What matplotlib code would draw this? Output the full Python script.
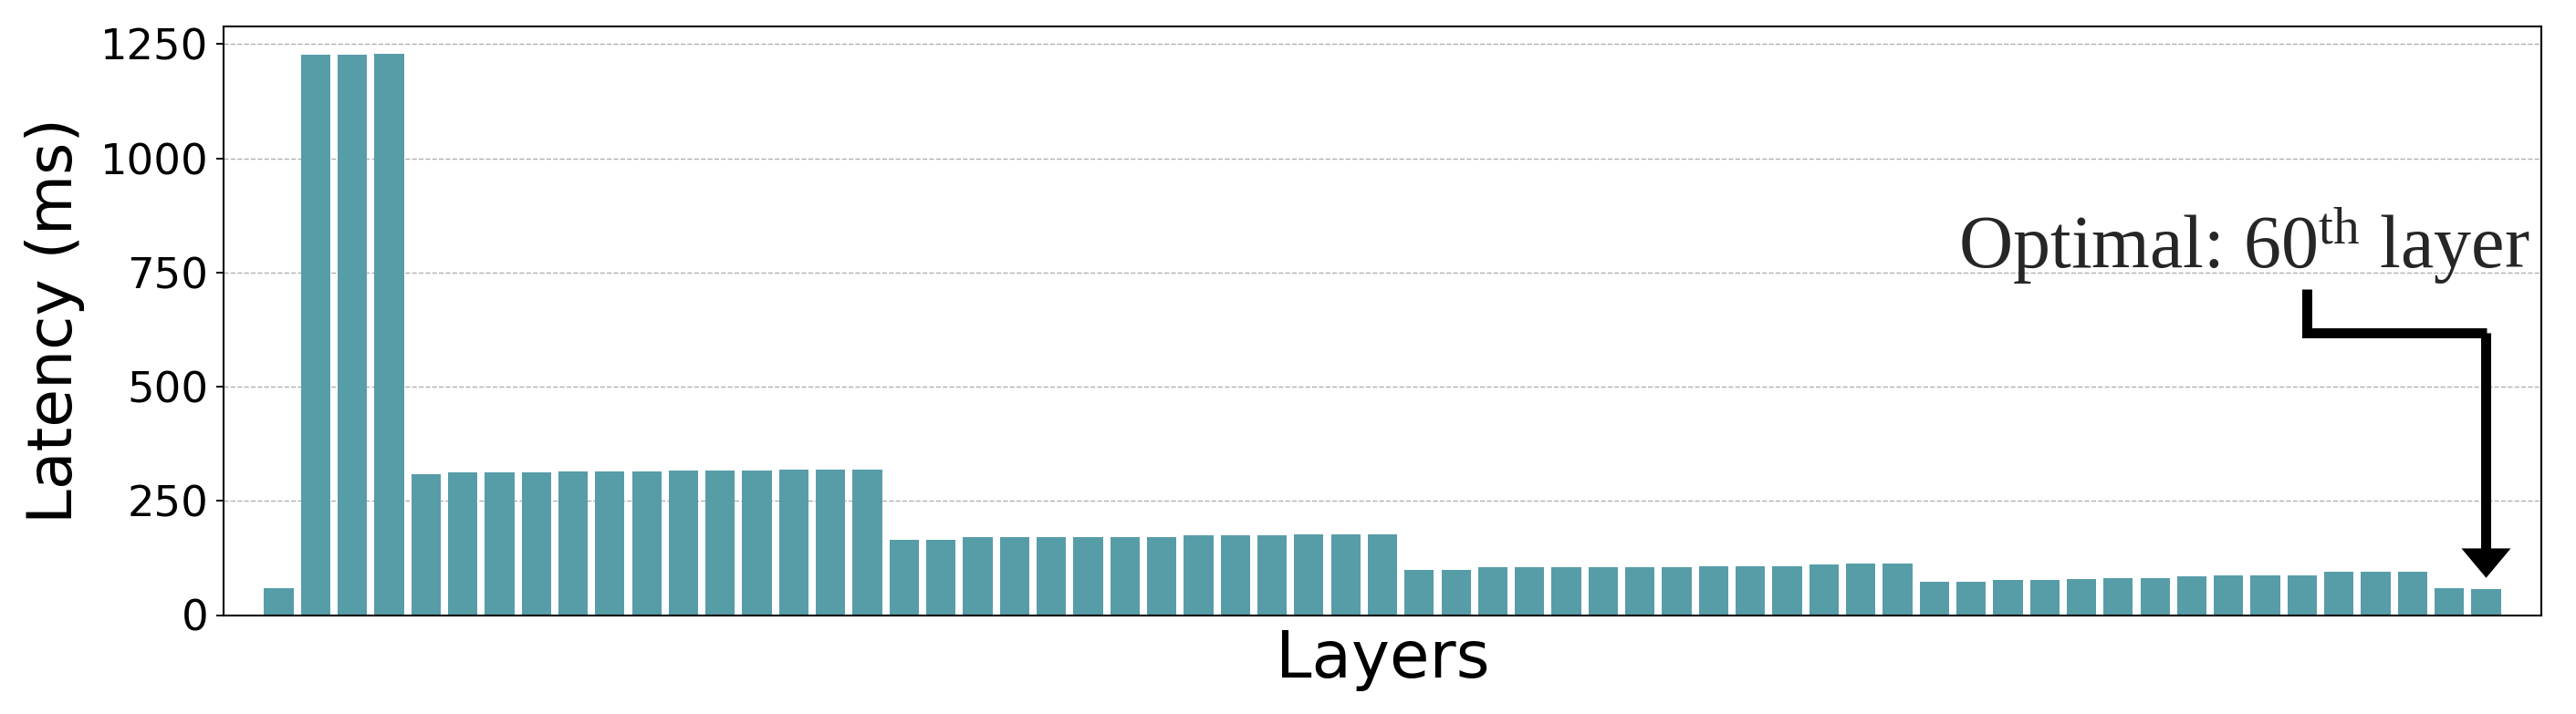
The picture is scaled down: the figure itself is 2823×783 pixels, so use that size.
import matplotlib
matplotlib.use("Agg")
import matplotlib.pyplot as plt
import numpy as np

# ---- data ----
latency_ms = [
    58,
    1227, 1227, 1228,
    309, 312, 312, 312, 314, 314, 314, 317, 317, 317, 319, 319, 319,
    165.5, 165.5, 170, 170, 170, 171.5, 171.5, 171.5, 174, 174, 174, 176, 176, 176,
    99.6, 99.6, 104, 104, 104, 105.7, 105.7, 105.7, 107.4, 107.4, 107.4, 110, 111.8, 111.8,
    72.8, 72.8, 76.3, 76.3, 78, 81.5, 81.5, 84.1, 87.6, 87.6, 87.6, 94.5, 94.5, 94.5,
    58.1, 56.4,
]
layers = list(range(len(latency_ms)))
optimal_layer = layers[-1]
annotation_text = r"Optimal: 60$^{\mathrm{th}}$ layer"

# ---- figure ----
plt.rcParams["mathtext.fontset"] = "custom"
plt.rcParams["mathtext.rm"] = "Liberation Serif"
plt.rcParams["mathtext.it"] = "Liberation Serif:italic"

fig = plt.figure(figsize=(28.23, 7.83), dpi=100)
ax = fig.add_axes([245 / 2823, 1 - 674.5 / 783, 2540 / 2823, 646 / 783])

ax.bar(layers, latency_ms, width=0.8, color="#579DA8", zorder=2)

ax.set_xlim(-1.5, 61.5)
ax.set_ylim(0, 1289.5)
ax.set_yticks([0, 250, 500, 750, 1000, 1250])
ax.set_xticks([])
ax.tick_params(axis="y", labelsize=33.5, length=6, width=1.4, pad=6, colors="black")
ax.grid(axis="y", linestyle="--", color="#b0b0b0", linewidth=1.0, zorder=0)
ax.set_axisbelow(True)
for s in ax.spines.values():
    s.set_linewidth(1.5)
    s.set_color("black")

ax.set_ylabel("Latency (ms)", fontsize=49)
ax.yaxis.set_label_coords(-0.06, 0.5)
ax.set_xlabel("Layers", fontsize=51, va="top")
ax.xaxis.set_label_coords(0.5, -0.022)

# ---- annotation ----
ax.text(61.2, 760, annotation_text, fontsize=59, family="Liberation Serif",
        color="#262626", ha="right", va="baseline")

start_x, start_y, corner_y = 55.12, 714, 617
tip_y = latency_ms[-1] + 25
ax.plot([start_x, start_x, optimal_layer], [start_y, corner_y, corner_y],
        color="black", lw=7.9, solid_joinstyle="miter", solid_capstyle="butt",
        zorder=5)
ax.arrow(optimal_layer, corner_y, 0, tip_y - corner_y, width=0.273,
         head_width=1.34, head_length=64.5, length_includes_head=True,
         color="black", lw=0, zorder=5)

fig.savefig("out.png", dpi=100)
